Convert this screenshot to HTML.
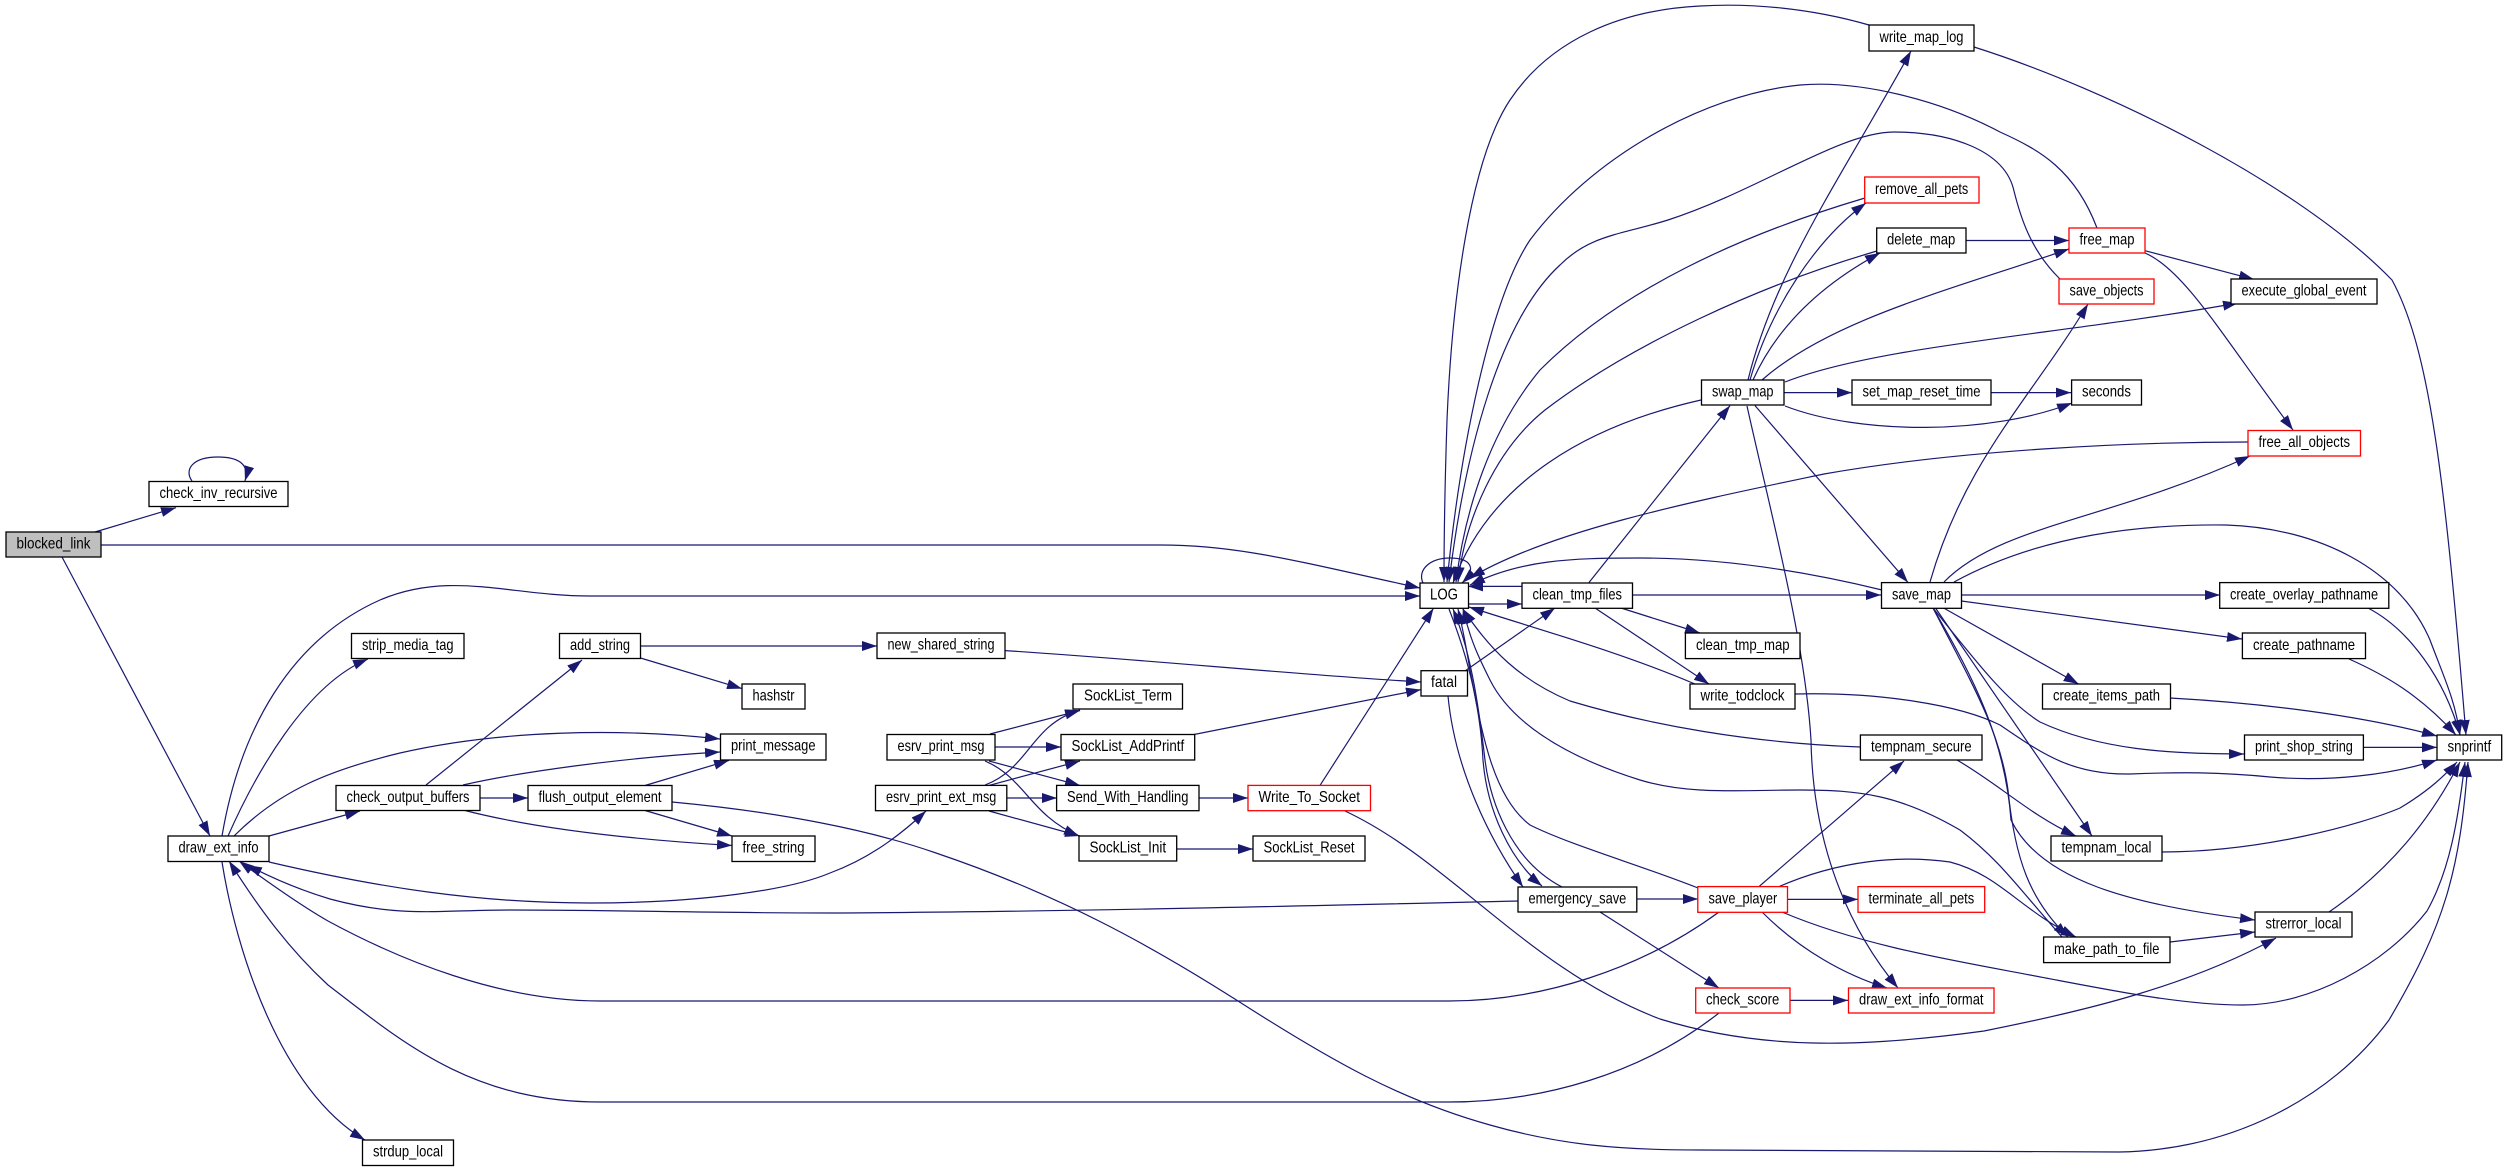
<!DOCTYPE html>
<html><head><meta charset="utf-8"><style>
html,body{margin:0;padding:0;background:#fff}
svg{display:block}
.e path{fill:none;stroke:#191970;stroke-width:1.2;marker-end:url(#a)}
.n rect{fill:#fff;stroke:#000;stroke-width:1.3}
.n rect.r{stroke:#f00}
.n rect.g{fill:#bfbfbf}
text{font-family:"Liberation Sans",sans-serif;font-size:16px;fill:#000}
</style></head><body>
<svg width="2507" height="1171" viewBox="0 0 2507 1171" xmlns="http://www.w3.org/2000/svg">
<defs><marker id="a" markerUnits="userSpaceOnUse" markerWidth="15" markerHeight="11" refX="15" refY="5" orient="auto"><polygon points="0,0 15,5 0,10" fill="#191970"/></marker></defs>
<g class="e">
<path d="M95 532L176 507.7"/>
<path d="M62 557L210 836"/>
<path d="M192 481C184 470 192 457 218 457C238 457 250 464 245 481"/>
<path d="M100 545L1160 545C1240 545 1300 562 1420 588"/>
<path d="M222 836C240 730 290 640 380 600C450 570 510 596 590 596L1420 596"/>
<path d="M228 836C255 775 305 685 368 659"/>
<path d="M234 836C280 790 330 770 400 753C500 730 620 728 720 739"/>
<path d="M269 836L360 811"/>
<path d="M269 862C380 888 480 903 590 903C700 903 790 890 830 873C865 860 895 840 926 811"/>
<path d="M426 785L582 660"/>
<path d="M640.5 658L742 688.6"/>
<path d="M640 646L877 646"/>
<path d="M1005 650.6C1150 660 1300 675 1421 682"/>
<path d="M463 785C520 772 620 758 720 752"/>
<path d="M645 785.5L729 760.4"/>
<path d="M480 798L528 798"/>
<path d="M463 810C540 830 640 840 732 845.5"/>
<path d="M645 810.5L732 836"/>
<path d="M672 802C780 812 870 830 936 853C1060 895 1150 945 1238 1001C1330 1060 1400 1100 1490 1125C1560 1145 1620 1150 1700 1150L2119 1152C2230 1150 2330 1100 2389 1020C2445 925 2460 870 2468 762"/>
<path d="M1518 901C1300 906 1050 912 830 913C700 913 620 910 510 910C440 910 400 918 330 899C300 890 270 877 247 865"/>
<path d="M1719 912C1640 970 1540 1001 1449 1001L600 1001C500 1001 400 960 328 921C300 905 265 880 239 861"/>
<path d="M1719 1013C1640 1075 1540 1102 1449 1102L600 1102C470 1102 400 1040 328 985C290 950 260 910 229 861"/>
<path d="M222 862C236 950 280 1090 365 1140"/>
<path d="M990 734L1080 710.5"/>
<path d="M995 747L1061 747"/>
<path d="M989 761L1080 785.4"/>
<path d="M985 761C1025 778 1030 815 1079 836"/>
<path d="M985 785C1030 768 1030 725 1080 710"/>
<path d="M989 785.4L1080 761"/>
<path d="M1007 798L1057 798"/>
<path d="M989 811L1080 836"/>
<path d="M1177 849L1253 849"/>
<path d="M1199 798L1248 798"/>
<path d="M1320 785.4L1433.5 608.3"/>
<path d="M1345 811C1450 860 1530 970 1660 1019C1760 1050 1860 1048 1984 1031C2090 1010 2190 985 2276 938"/>
<path d="M1194 734.5L1421 689.6"/>
<path d="M1465 671L1555 608"/>
<path d="M1448 696C1455 770 1490 840 1523 887"/>
<path d="M1423 583C1417 570 1430 558 1450 558C1470 558 1478 568 1462 583"/>
<path d="M1468 604L1522 604"/>
<path d="M1522 586.4L1468 586.4"/>
<path d="M1589 582.5L1730 405.6"/>
<path d="M1632 595L1881 595"/>
<path d="M1621 608L1700 633"/>
<path d="M1595 608L1709 684"/>
<path d="M1695 684C1620 652 1540 630 1469 607"/>
<path d="M1795 694C1880 692 1960 705 2000 725C2040 752 2070 775 2130 774C2180 772 2220 772 2270 777C2330 782 2390 775 2437 760"/>
<path d="M1860 747C1750 743 1650 725 1570 701C1520 680 1490 650 1463 609"/>
<path d="M2062 937C2020 890 2000 860 1960 830C1900 795 1860 790 1800 790C1740 790 1690 795 1640 780C1560 755 1510 720 1490 680C1480 660 1470 640 1463 609"/>
<path d="M1698 888C1640 865 1570 845 1530 825C1490 795 1480 720 1470 670C1465 640 1462 625 1458 609"/>
<path d="M1562 887C1510 860 1490 800 1485 760C1478 700 1470 650 1453 609"/>
<path d="M1449 609C1465 650 1480 700 1483 760C1487 810 1510 860 1542 886"/>
<path d="M1637 899L1698 899"/>
<path d="M1600 912L1719 988"/>
<path d="M1790 1000.4L1848 1000.4"/>
<path d="M1787 899.4L1858 899.4"/>
<path d="M1759 886.6L1904 761"/>
<path d="M1778 887C1840 860 1900 855 1950 862C2000 875 2020 910 2076 937"/>
<path d="M1762 912C1800 950 1845 975 1887 988"/>
<path d="M1782 912C1860 945 1950 960 2030 975C2110 990 2180 1005 2243 1005C2310 1005 2385 965 2427 911C2450 870 2458 820 2465 762"/>
<path d="M1701 400C1590 425 1490 480 1453 583"/>
<path d="M1748 380C1775 270 1840 180 1911 51"/>
<path d="M1869 25C1810 8 1750 3 1700 6C1620 10 1550 40 1510 100C1470 160 1452 300 1447 420C1445 480 1444 530 1444 582"/>
<path d="M1974 47C2110 90 2300 185 2392 280C2430 350 2445 480 2466 735"/>
<path d="M1750 380C1770 310 1815 240 1866 203"/>
<path d="M1865 198C1740 235 1620 290 1540 370C1490 430 1465 510 1456 582"/>
<path d="M1753 380C1780 320 1830 280 1880 253"/>
<path d="M1877 251C1760 285 1630 345 1545 410C1495 450 1465 520 1458 582"/>
<path d="M1966 240.5L2069 240.5"/>
<path d="M1762 380C1830 320 1950 290 2069 249"/>
<path d="M2097 228C2075 170 2040 150 2000 132C1940 100 1860 80 1800 85C1700 95 1590 160 1530 240C1490 300 1460 450 1447 582"/>
<path d="M2060 279C2030 250 2020 215 2014 191C2005 150 1950 132 1894 132C1840 132 1760 190 1668 220C1620 235 1590 235 1560 265C1500 320 1465 450 1449 582"/>
<path d="M1785 382C1880 345 2060 335 2238 303"/>
<path d="M2145 250.7L2254 279.4"/>
<path d="M2145 253C2185 270 2225 340 2293 430"/>
<path d="M1784 392.6L1852 392.6"/>
<path d="M1991 392.6L2071 392.6"/>
<path d="M1785 406C1860 435 1990 435 2072 403"/>
<path d="M1755 405.6L1908 582.5"/>
<path d="M1747 406C1770 510 1805 640 1811 740C1812 800 1825 900 1898 988"/>
<path d="M1930 582C1965 460 2030 400 2088 304"/>
<path d="M1882 590C1800 570 1720 558 1640 558C1570 558 1520 560 1470 585"/>
<path d="M2248 442C2130 442 1960 450 1824 474C1700 500 1550 530 1470 578"/>
<path d="M1944 582C2000 525 2110 520 2250 456"/>
<path d="M1954 582C2040 535 2140 524 2226 525C2320 528 2400 570 2430 640C2445 680 2455 700 2460 735"/>
<path d="M1961 595L2220 595"/>
<path d="M2368 608C2410 630 2445 680 2460 735"/>
<path d="M1961.4 601L2242 639"/>
<path d="M2349 659C2385 675 2420 695 2456 735"/>
<path d="M1943.6 608L2078.6 684"/>
<path d="M2170 698C2260 703 2360 715 2437 736"/>
<path d="M1933 608C1975 660 2005 700 2040 722C2100 750 2170 754 2244 754"/>
<path d="M2363 747.4L2437 747.4"/>
<path d="M1935.5 608L2092 836"/>
<path d="M1957 760C2000 785 2030 815 2076 836"/>
<path d="M2162 852C2260 852 2360 825 2400 808C2430 790 2445 775 2457 762"/>
<path d="M1933 608C1970 680 2000 730 2008 790C2015 860 2030 900 2068 937"/>
<path d="M1933 608C1975 680 2005 740 2011 820C2040 880 2130 905 2255 920"/>
<path d="M2170 942L2255 932"/>
<path d="M2329 912C2390 870 2430 820 2460 762"/>
</g>
<g class="n">
<rect class="g" x="6" y="532" width="95" height="25"/><text x="16.5" y="548.5" textLength="74" lengthAdjust="spacingAndGlyphs">blocked_link</text>
<rect x="149" y="481.5" width="139" height="25"/><text x="159.5" y="498" textLength="118" lengthAdjust="spacingAndGlyphs">check_inv_recursive</text>
<rect x="168" y="836" width="101" height="25.500"/><text x="178.5" y="852.5" textLength="80" lengthAdjust="spacingAndGlyphs">draw_ext_info</text>
<rect x="351.500" y="633.5" width="112.500" height="25"/><text x="362" y="650" textLength="91.500" lengthAdjust="spacingAndGlyphs">strip_media_tag</text>
<rect x="559.5" y="633.5" width="81" height="25"/><text x="570" y="650" textLength="60" lengthAdjust="spacingAndGlyphs">add_string</text>
<rect x="742" y="684" width="63" height="25"/><text x="752.5" y="700.5" textLength="42" lengthAdjust="spacingAndGlyphs">hashstr</text>
<rect x="720.5" y="734" width="105.500" height="26"/><text x="731" y="750.5" textLength="84.500" lengthAdjust="spacingAndGlyphs">print_message</text>
<rect x="336" y="785.5" width="144" height="25"/><text x="346.5" y="802" textLength="123" lengthAdjust="spacingAndGlyphs">check_output_buffers</text>
<rect x="528" y="785.5" width="144" height="25"/><text x="538.5" y="802" textLength="123" lengthAdjust="spacingAndGlyphs">flush_output_element</text>
<rect x="732" y="836" width="83" height="25.500"/><text x="742.5" y="852.5" textLength="62" lengthAdjust="spacingAndGlyphs">free_string</text>
<rect x="362.5" y="1140" width="91" height="25.500"/><text x="373" y="1156.5" textLength="70" lengthAdjust="spacingAndGlyphs">strdup_local</text>
<rect x="1420" y="583" width="48.500" height="25.300"/><text x="1430" y="599.500" textLength="28" lengthAdjust="spacingAndGlyphs">LOG</text>
<rect x="1522" y="583" width="110.500" height="25.300"/><text x="1532.5" y="599.500" textLength="89.500" lengthAdjust="spacingAndGlyphs">clean_tmp_files</text>
<rect x="877" y="633" width="128" height="25.500"/><text x="887.5" y="649.5" textLength="107" lengthAdjust="spacingAndGlyphs">new_shared_string</text>
<rect x="1421" y="670.7" width="46.500" height="25.300"/><text x="1431" y="687.200" textLength="26" lengthAdjust="spacingAndGlyphs">fatal</text>
<rect x="1073" y="684" width="109.500" height="25"/><text x="1084" y="700.5" textLength="88" lengthAdjust="spacingAndGlyphs">SockList_Term</text>
<rect x="887" y="734.5" width="108" height="25.500"/><text x="897.5" y="751" textLength="87" lengthAdjust="spacingAndGlyphs">esrv_print_msg</text>
<rect x="1061" y="734.5" width="133.700" height="25.500"/><text x="1071.5" y="751" textLength="112.700" lengthAdjust="spacingAndGlyphs">SockList_AddPrintf</text>
<rect x="875.5" y="785.4" width="131.300" height="25.300"/><text x="886" y="802" textLength="110.300" lengthAdjust="spacingAndGlyphs">esrv_print_ext_msg</text>
<rect x="1056.6" y="785.4" width="142.400" height="25.300"/><text x="1067" y="802" textLength="121.400" lengthAdjust="spacingAndGlyphs">Send_With_Handling</text>
<rect class="r" x="1248" y="785.4" width="122.500" height="25.300"/><text x="1258.5" y="802" textLength="101.500" lengthAdjust="spacingAndGlyphs">Write_To_Socket</text>
<rect x="1079" y="836" width="97.700" height="25"/><text x="1089.5" y="852.5" textLength="76.700" lengthAdjust="spacingAndGlyphs">SockList_Init</text>
<rect x="1253" y="836" width="112" height="25"/><text x="1263.5" y="852.5" textLength="91" lengthAdjust="spacingAndGlyphs">SockList_Reset</text>
<rect x="1518" y="887" width="118.800" height="25"/><text x="1528.5" y="903.5" textLength="97.800" lengthAdjust="spacingAndGlyphs">emergency_save</text>
<rect x="1869" y="25" width="105" height="26"/><text x="1879.5" y="42" textLength="84" lengthAdjust="spacingAndGlyphs">write_map_log</text>
<rect class="r" x="1864.7" y="177" width="114.300" height="26"/><text x="1875" y="194" textLength="93.300" lengthAdjust="spacingAndGlyphs">remove_all_pets</text>
<rect x="1876.7" y="228" width="89.300" height="25"/><text x="1887" y="244.5" textLength="68.300" lengthAdjust="spacingAndGlyphs">delete_map</text>
<rect class="r" x="2069" y="228" width="76" height="25"/><text x="2079.5" y="244.5" textLength="55" lengthAdjust="spacingAndGlyphs">free_map</text>
<rect class="r" x="2059" y="279" width="95" height="25"/><text x="2069.5" y="295.5" textLength="74" lengthAdjust="spacingAndGlyphs">save_objects</text>
<rect x="2231" y="279" width="146" height="25"/><text x="2241.5" y="295.5" textLength="125" lengthAdjust="spacingAndGlyphs">execute_global_event</text>
<rect x="1701.5" y="380" width="82.500" height="25"/><text x="1712" y="396.5" textLength="61.500" lengthAdjust="spacingAndGlyphs">swap_map</text>
<rect x="1852" y="380" width="139" height="25"/><text x="1862.5" y="396.5" textLength="118" lengthAdjust="spacingAndGlyphs">set_map_reset_time</text>
<rect x="2071.6" y="380" width="69.900" height="25"/><text x="2082" y="396.5" textLength="48.900" lengthAdjust="spacingAndGlyphs">seconds</text>
<rect class="r" x="2248" y="430.5" width="112.500" height="25.500"/><text x="2258.5" y="447" textLength="91.500" lengthAdjust="spacingAndGlyphs">free_all_objects</text>
<rect x="1881.5" y="582.6" width="80" height="25.700"/><text x="1892" y="599.5" textLength="59" lengthAdjust="spacingAndGlyphs">save_map</text>
<rect x="2219.7" y="582.6" width="169.100" height="25.700"/><text x="2230" y="599.5" textLength="148.100" lengthAdjust="spacingAndGlyphs">create_overlay_pathname</text>
<rect x="1685.4" y="633" width="114.600" height="25.600"/><text x="1696" y="650" textLength="93.600" lengthAdjust="spacingAndGlyphs">clean_tmp_map</text>
<rect x="2242.4" y="633" width="123.100" height="25.600"/><text x="2253" y="650" textLength="102.100" lengthAdjust="spacingAndGlyphs">create_pathname</text>
<rect x="1690" y="684" width="105" height="25"/><text x="1700.5" y="700.5" textLength="84" lengthAdjust="spacingAndGlyphs">write_todclock</text>
<rect x="2042.5" y="684" width="128" height="25"/><text x="2053" y="700.5" textLength="107" lengthAdjust="spacingAndGlyphs">create_items_path</text>
<rect x="1860.4" y="735" width="121.600" height="25"/><text x="1871" y="751.5" textLength="100.600" lengthAdjust="spacingAndGlyphs">tempnam_secure</text>
<rect x="2244.5" y="735" width="118.900" height="25"/><text x="2255" y="751.5" textLength="97.900" lengthAdjust="spacingAndGlyphs">print_shop_string</text>
<rect x="2437" y="735" width="64.700" height="25"/><text x="2447.5" y="751.5" textLength="43.700" lengthAdjust="spacingAndGlyphs">snprintf</text>
<rect x="2051" y="836" width="111" height="25"/><text x="2061.5" y="852.5" textLength="90" lengthAdjust="spacingAndGlyphs">tempnam_local</text>
<rect class="r" x="1697.8" y="886.6" width="89.700" height="25.700"/><text x="1708.5" y="903.5" textLength="68.700" lengthAdjust="spacingAndGlyphs">save_player</text>
<rect class="r" x="1858" y="886.6" width="126.700" height="25.700"/><text x="1868.5" y="903.5" textLength="105.700" lengthAdjust="spacingAndGlyphs">terminate_all_pets</text>
<rect x="2255" y="912" width="97" height="25"/><text x="2265.5" y="928.5" textLength="76" lengthAdjust="spacingAndGlyphs">strerror_local</text>
<rect x="2043.6" y="937" width="126.400" height="25.600"/><text x="2054" y="954" textLength="105.400" lengthAdjust="spacingAndGlyphs">make_path_to_file</text>
<rect class="r" x="1695.7" y="988" width="94.300" height="25"/><text x="1706" y="1004.5" textLength="73.300" lengthAdjust="spacingAndGlyphs">check_score</text>
<rect class="r" x="1848.5" y="988" width="145.500" height="25"/><text x="1859" y="1004.5" textLength="124.500" lengthAdjust="spacingAndGlyphs">draw_ext_info_format</text>
</g>
</svg>
</body></html>
